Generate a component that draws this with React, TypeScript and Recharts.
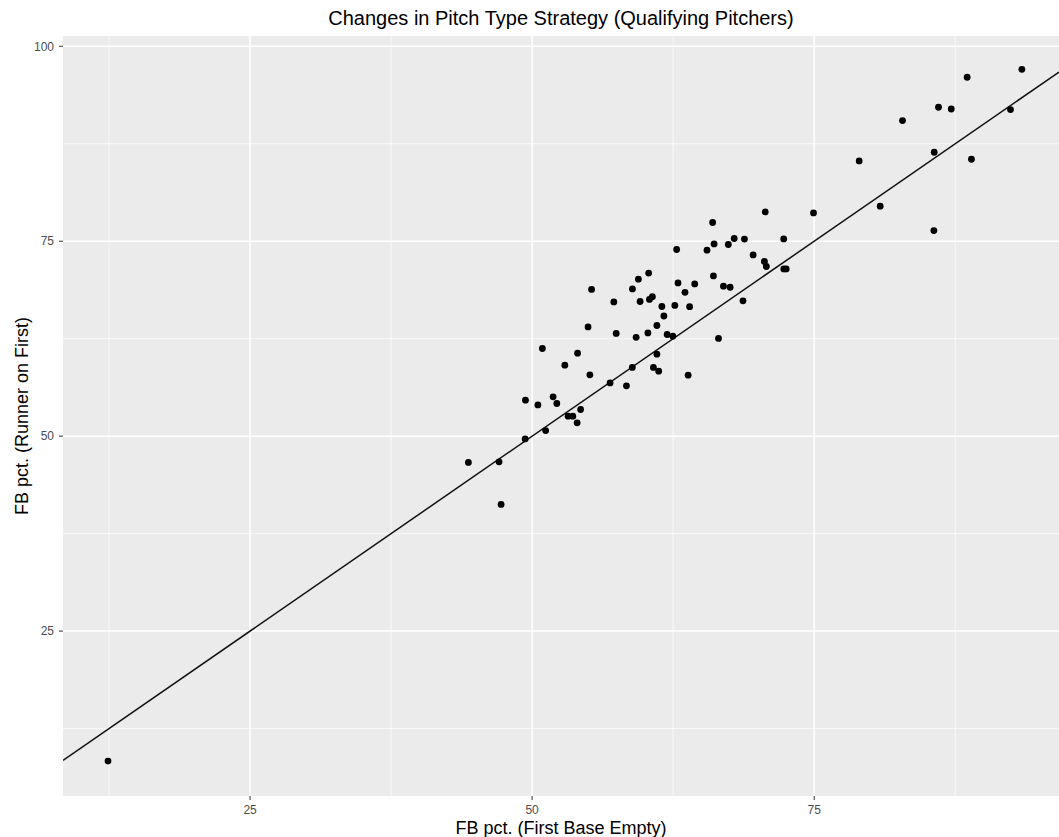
import React from "react";
import {
  ScatterChart,
  Scatter,
  XAxis,
  YAxis,
  CartesianGrid,
  ReferenceLine,
} from "recharts";

// FB pct. with first base empty (x) and with a runner on first (y), one entry per pitcher
const fbEmpty = [
  12.41, 44.35, 47.07, 47.25, 49.41, 49.38, 50.51, 50.91, 51.2, 51.86,
  52.19, 52.9, 53.19, 53.61, 53.99, 54.03, 54.3, 54.96, 55.12, 55.27,
  56.91, 57.24, 57.45, 58.36, 58.89, 58.88, 59.22, 59.42, 59.57, 60.33,
  60.26, 60.4, 60.66, 60.75, 61.06, 61.06, 61.22, 61.5, 61.68, 61.97,
  62.47, 62.65, 62.81, 62.93, 63.55, 63.83, 63.96, 64.41, 65.5, 66.0,
  66.07, 66.13, 66.52, 66.96, 67.39, 67.55, 67.91, 68.69, 68.82, 69.59,
  70.59, 70.76, 70.66, 72.3, 72.31, 72.52, 74.94, 78.99, 80.85, 82.83,
  85.64, 85.61, 86.02, 87.15, 88.56, 88.94, 92.4, 93.41,
];
const fbRunner = [
  8.33, 46.63, 46.71, 41.24, 54.62, 49.65, 54.01, 61.24, 50.71, 55.04,
  54.19, 59.1, 52.56, 52.56, 51.71, 60.64, 53.42, 64.01, 57.86, 68.82,
  56.83, 67.21, 63.17, 56.45, 68.88, 58.81, 62.67, 70.13, 67.27, 70.92,
  63.24, 67.54, 67.88, 58.82, 64.19, 60.51, 58.33, 66.63, 65.41, 63.04,
  62.82, 66.77, 73.94, 69.65, 68.44, 57.82, 66.6, 69.53, 73.85, 77.4,
  70.55, 74.65, 62.53, 69.23, 74.58, 69.1, 75.35, 67.35, 75.28, 73.24,
  72.4, 71.76, 78.76, 75.29, 71.45, 71.45, 78.63, 85.3, 79.49, 90.47,
  86.41, 76.37, 92.18, 91.96, 96.03, 85.51, 91.88, 97.05,
];

const xTicks = [25, 50, 75];
const yTicks = [25, 50, 75, 100];
const xMinor = [12.5, 37.5, 62.5, 87.5];
const yMinor = [12.5, 37.5, 62.5, 87.5];

const X_DOMAIN: [number, number] = [8.42, 96.7];
const Y_DOMAIN: [number, number] = [3.85, 101.32];

const data = fbEmpty.map((x, i) => ({ x, y: fbRunner[i] }));

const FONT = '"Liberation Sans", Arial, Helvetica, sans-serif';
const tickStyle = { fill: "#4D4D4D", fontSize: 12, fontFamily: FONT };

const Dot = (props: any) => <circle cx={props.cx} cy={props.cy} r={3.4} fill="#000" />;

export default function App() {
  return (
    <div
      style={{
        position: "absolute",
        left: 0,
        top: 0,
        width: 1059,
        height: 837,
        background: "#fff",
        fontFamily: FONT,
        color: "#000",
      }}
    >
      <ScatterChart
        width={1059}
        height={837}
        margin={{ top: 36, right: 0, bottom: 0, left: 0 }}
      >
        <CartesianGrid
          fill="#EBEBEB"
          stroke="#fff"
          strokeWidth={1.5}
          horizontalValues={yTicks}
          verticalValues={xTicks}
        />
        {xMinor.map((v) => (
          <ReferenceLine key={"xm" + v} x={v} stroke="#fff" strokeWidth={0.7} />
        ))}
        {yMinor.map((v) => (
          <ReferenceLine key={"ym" + v} y={v} stroke="#fff" strokeWidth={0.7} />
        ))}
        <XAxis
          type="number"
          dataKey="x"
          domain={X_DOMAIN}
          ticks={xTicks}
          allowDataOverflow
          height={41}
          axisLine={false}
          tickLine={{ stroke: "#333" }}
          tickSize={4}
          tickMargin={5}
          tick={tickStyle}
        />
        <YAxis
          type="number"
          dataKey="y"
          domain={Y_DOMAIN}
          ticks={yTicks}
          allowDataOverflow
          width={63}
          axisLine={false}
          tickLine={{ stroke: "#333" }}
          tickSize={4}
          tickMargin={5}
          tick={tickStyle}
        />
        <Scatter data={data} shape={Dot} isAnimationActive={false} />
        <ReferenceLine
          segment={[
            { x: X_DOMAIN[0], y: X_DOMAIN[0] },
            { x: X_DOMAIN[1], y: X_DOMAIN[1] },
          ]}
          stroke="#111"
          strokeWidth={1.5}
          ifOverflow="hidden"
        />
      </ScatterChart>

      {/* titles */}
      <div
        style={{
          position: "absolute",
          left: 63,
          width: 996,
          top: 8,
          lineHeight: "20px",
          fontSize: 20,
          textAlign: "center",
        }}
      >
        Changes in Pitch Type Strategy (Qualifying Pitchers)
      </div>
      <div
        style={{
          position: "absolute",
          left: 63,
          width: 996,
          top: 818,
          lineHeight: "20px",
          fontSize: 18,
          textAlign: "center",
        }}
      >
        FB pct. (First Base Empty)
      </div>
      <div
        style={{
          position: "absolute",
          left: 22 - 200,
          top: 416 - 10,
          width: 400,
          height: 20,
          lineHeight: "20px",
          fontSize: 18,
          textAlign: "center",
          transform: "rotate(-90deg)",
        }}
      >
        FB pct. (Runner on First)
      </div>
    </div>
  );
}
